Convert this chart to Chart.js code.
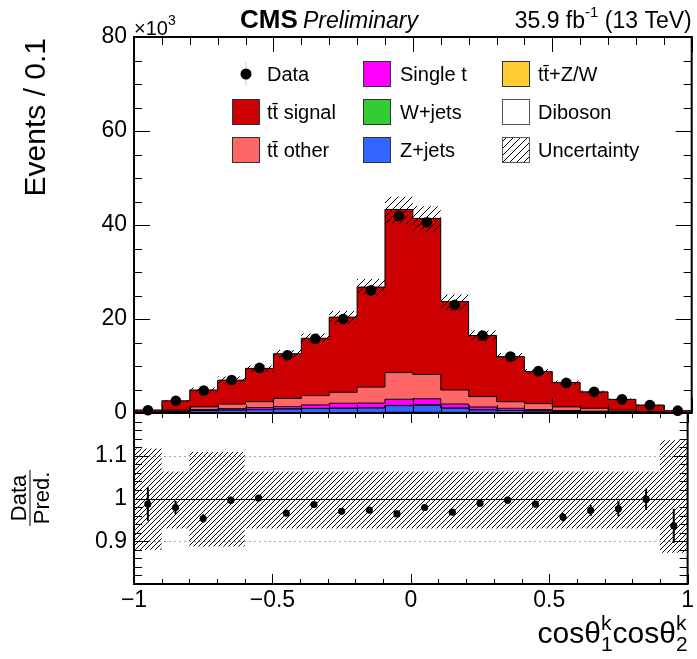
<!DOCTYPE html>
<html>
<head>
<meta charset="utf-8">
<script src="https://cdn.jsdelivr.net/npm/chart.js@4.4.0/dist/chart.umd.min.js"></script>
<style>
  html, body { margin: 0; padding: 0; background: #fff; }
  #wrap { position: relative; width: 697px; height: 659px; }
  canvas { position: absolute; left: 0; top: 0; }
</style>
</head>
<body>
<div id="wrap">
  <canvas id="main" width="697" height="659"></canvas>
  <canvas id="ratio" width="697" height="659"></canvas>
</div>
<script>
// bin edges of cos(theta1k)cos(theta2k), 20 bins of 0.1
const binEdges = [-1.0, -0.9, -0.8, -0.7, -0.6, -0.5, -0.4, -0.3, -0.2, -0.1, 0.0,
                  0.1, 0.2, 0.3, 0.4, 0.5, 0.6, 0.7, 0.8, 0.9, 1.0];

// events per bin, in units of 10^3
const dataCounts = [0.6, 2.6, 4.8, 7.0, 9.6, 12.3, 15.8, 20.0, 26.1, 41.9,
                    40.6, 23.0, 16.5, 12.0, 8.9, 6.4, 4.5, 2.9, 1.7, 0.5];
const ttSignal   = [0.39, 2.0, 3.6, 5.1, 7.1, 9.5, 12.2, 16.0, 21.3, 34.7,
                    33.2, 18.8, 13.0, 9.6, 6.8, 5.2, 3.5, 2.3, 1.4, 0.39];
const ttOther    = [0.10, 0.20, 0.58, 0.97, 1.26, 1.74, 1.98, 2.32, 3.39, 5.68,
                    5.18, 2.99, 2.22, 1.40, 1.28, 0.77, 0.62, 0.34, 0.14, 0.03];
const singleTop  = [0.04, 0.10, 0.20, 0.30, 0.40, 0.50, 0.75, 1.05, 1.00, 1.30,
                    1.30, 0.85, 0.60, 0.45, 0.28, 0.17, 0.12, 0.08, 0.04, 0.02];
const wJets      = [0.01, 0.01, 0.02, 0.02, 0.02, 0.03, 0.03, 0.03, 0.04, 0.06,
                    0.06, 0.04, 0.03, 0.02, 0.02, 0.02, 0.01, 0.01, 0.01, 0.00];
const zJets      = [0.08, 0.25, 0.45, 0.55, 0.65, 0.75, 0.85, 0.90, 0.95, 1.40,
                    1.50, 0.90, 0.55, 0.45, 0.35, 0.28, 0.20, 0.13, 0.08, 0.04];
const ttV        = [0.01, 0.02, 0.02, 0.03, 0.03, 0.04, 0.04, 0.05, 0.06, 0.08,
                    0.08, 0.06, 0.05, 0.04, 0.03, 0.03, 0.02, 0.02, 0.01, 0.01];
const diboson    = [0.01, 0.02, 0.03, 0.03, 0.04, 0.04, 0.05, 0.05, 0.06, 0.08,
                    0.08, 0.06, 0.05, 0.04, 0.04, 0.03, 0.03, 0.02, 0.02, 0.01];

// relative uncertainty of the prediction (up / down)
const uncUp   = [0.117, 0.063, 0.109, 0.109, 0.063, 0.063, 0.063, 0.063, 0.063, 0.063,
                 0.063, 0.063, 0.063, 0.063, 0.063, 0.063, 0.063, 0.063, 0.063, 0.136];
const uncDown = [0.120, 0.070, 0.112, 0.112, 0.070, 0.070, 0.070, 0.070, 0.070, 0.070,
                 0.070, 0.070, 0.070, 0.070, 0.070, 0.070, 0.070, 0.070, 0.070, 0.127];

// data / prediction
const ratioVals = [0.987, 0.979, 0.953, 0.996, 1.001, 0.966, 0.986, 0.970, 0.973, 0.964,
                   0.979, 0.968, 0.989, 0.996, 0.987, 0.956, 0.972, 0.976, 0.998, 0.936];
const ratioErr  = [0.039, 0.016, 0.010, 0.008, 0.007, 0.006, 0.005, 0.005, 0.004, 0.004,
                   0.004, 0.005, 0.005, 0.006, 0.007, 0.010, 0.013, 0.018, 0.025, 0.040];

const yTicksMain = [0, 20, 40, 60, 80];
const yTicksRatio = [0.9, 1, 1.1];
const xTickLabels = [-1, -0.5, 0, 0.5, 1];

const FONT = '"Liberation Sans", Arial, Helvetica, sans-serif';

// stack order bottom -> top
const mcSeries = [
  { label: 'Diboson',      values: diboson,   color: '#ffffff' },
  { label: 't\u0074\u0304+Z/W', values: ttV,  color: '#ffcc33' },
  { label: 'Z+jets',       values: zJets,     color: '#3366ff' },
  { label: 'W+jets',       values: wJets,     color: '#33cc33' },
  { label: 'Single t',     values: singleTop, color: '#ff00ff' },
  { label: 't\u0074\u0304 other',  values: ttOther,  color: '#ff6666' },
  { label: 't\u0074\u0304 signal', values: ttSignal, color: '#cc0000' }
];

const mcTotal = binEdges.slice(1).map((_, i) => mcSeries.reduce((s, m) => s + m.values[i], 0));
const binCenters = binEdges.slice(1).map((e, i) => (e + binEdges[i]) / 2);

function histPoints(values) {
  const pts = values.map((v, i) => ({ x: binEdges[i], y: v }));
  pts.push({ x: binEdges[binEdges.length - 1], y: values[values.length - 1] });
  return pts;
}

// "///" hatch, lines `size` px apart horizontally
function makeHatch(ctx, size, lw) {
  const c = document.createElement('canvas');
  c.width = size; c.height = size;
  const g = c.getContext('2d');
  g.strokeStyle = '#000';
  g.lineWidth = lw;
  g.beginPath();
  g.moveTo(-1, size + 1); g.lineTo(size + 1, -1);
  g.moveTo(-1, 1); g.lineTo(1, -1);
  g.moveTo(size - 1, size + 1); g.lineTo(size + 1, size - 1);
  g.stroke();
  return ctx.createPattern(c, 'repeat');
}

const isMult = (v, step) => Math.abs(v / step - Math.round(v / step)) < 1e-6;

function drawFrame(ctx, a, x, y, o) {
  ctx.save();
  ctx.strokeStyle = '#000';
  ctx.lineWidth = 1;
  ctx.beginPath();
  binEdges.forEach(v => {
    const px = Math.round(x.getPixelForValue(v)) + 0.5;
    const len = isMult(v, 0.5) ? o.xLong : o.xShort;
    ctx.moveTo(px, a.bottom); ctx.lineTo(px, a.bottom - len);
    ctx.moveTo(px, a.top); ctx.lineTo(px, a.top + len);
  });
  y.ticks.forEach(t => {
    const py = Math.round(y.getPixelForValue(t.value)) + 0.5;
    const len = isMult(t.value, o.yMajor) ? o.yLong : o.yShort;
    ctx.moveTo(a.left, py); ctx.lineTo(a.left + len, py);
    ctx.moveTo(a.right, py); ctx.lineTo(a.right - len, py);
  });
  ctx.stroke();
  ctx.lineWidth = 2;
  ctx.strokeRect(a.left, a.top, a.right - a.left, a.bottom - a.top);
  ctx.restore();
}

const ctxMain = document.getElementById('main').getContext('2d');
const ctxRatio = document.getElementById('ratio').getContext('2d');
const hatchMain = makeHatch(ctxMain, 7, 1);
const hatchRatio = makeHatch(ctxRatio, 5, 1);

const decorMain = {
  id: 'decorMain',
  afterDraw(chart) {
    const { ctx, chartArea: a, scales: { x, y } } = chart;
    drawFrame(ctx, a, x, y, { xShort: 8, xLong: 15, yShort: 8, yLong: 16, yMajor: 20 });

    ctx.save();
    ctx.fillStyle = '#000';
    ctx.textAlign = 'left';
    ctx.textBaseline = 'alphabetic';

    // header
    ctx.font = 'bold 26px ' + FONT;
    ctx.fillText('CMS', 240, 28);
    ctx.font = 'italic 23px ' + FONT;
    ctx.fillText('Preliminary', 303, 28);
    ctx.font = '23px ' + FONT;
    const l1 = '35.9 fb', l3 = ' (13 TeV)';
    const w1 = ctx.measureText(l1).width, w3 = ctx.measureText(l3).width;
    ctx.font = '15px ' + FONT;
    const w2 = ctx.measureText('-1').width;
    let lx = a.right - (w1 + w2 + w3);
    ctx.font = '23px ' + FONT;
    ctx.fillText(l1, lx, 28);
    ctx.font = '15px ' + FONT;
    ctx.fillText('-1', lx + w1, 17);
    ctx.font = '23px ' + FONT;
    ctx.fillText(l3, lx + w1 + w2, 28);

    // x10^3
    ctx.font = '20px ' + FONT;
    ctx.fillText('\u00d710', a.left, 35);
    const wx = ctx.measureText('\u00d710').width;
    ctx.font = '14px ' + FONT;
    ctx.fillText('3', a.left + wx, 25);

    // y title
    ctx.save();
    ctx.translate(45, a.top + 1);
    ctx.rotate(-Math.PI / 2);
    ctx.textAlign = 'right';
    ctx.font = '30px ' + FONT;
    ctx.fillText('Events / 0.1', 0, 0);
    ctx.restore();

    // legend
    const rows = [74, 112, 150];
    const cols = [{ box: 232, text: 267 }, { box: 363, text: 400 }, { box: 502, text: 538 }];
    const byLabel = {};
    mcSeries.forEach(m => { byLabel[m.label] = m.color; });
    const entries = [
      [0, 0, 'Data', 'data'], [0, 1, 't\u0074\u0304 signal', byLabel['t\u0074\u0304 signal']],
      [0, 2, 't\u0074\u0304 other', byLabel['t\u0074\u0304 other']],
      [1, 0, 'Single t', byLabel['Single t']], [1, 1, 'W+jets', byLabel['W+jets']],
      [1, 2, 'Z+jets', byLabel['Z+jets']],
      [2, 0, 't\u0074\u0304+Z/W', byLabel['t\u0074\u0304+Z/W']], [2, 1, 'Diboson', byLabel['Diboson']],
      [2, 2, 'Uncertainty', hatchMain]
    ];
    entries.forEach(([c, r, text, fill]) => {
      const cy = rows[r], bx = cols[c].box;
      if (fill === 'data') {
        ctx.beginPath();
        ctx.arc(bx + 14, cy, 5.5, 0, Math.PI * 2);
        ctx.fill();
        ctx.lineWidth = 2;
        ctx.beginPath();
        ctx.moveTo(bx + 14, cy - 12); ctx.lineTo(bx + 14, cy + 12);
        ctx.stroke();
      } else {
        ctx.fillStyle = fill;
        ctx.fillRect(bx, cy - 13, 28, 26);
        ctx.strokeStyle = fill === '#ffffff' || fill === hatchMain ? '#555' : '#333';
        ctx.lineWidth = 1;
        ctx.strokeRect(bx + 0.5, cy - 12.5, 27, 25);
      }
      ctx.fillStyle = '#000';
      ctx.font = '20px ' + FONT;
      ctx.fillText(text, cols[c].text, cy + 7);
    });
    ctx.restore();
  }
};

const mainDatasets = [
  {
    label: 'Data', type: 'line', showLine: false, clip: false, stack: 'data', order: 0,
    data: binCenters.map((c, i) => ({ x: c, y: dataCounts[i] })),
    pointRadius: 5.3, pointBackgroundColor: '#000', pointBorderWidth: 0
  },
  {
    label: 'UncLo', stack: 'uncLo', order: 1, stepped: true, fill: false,
    data: histPoints(mcTotal.map((t, i) => t * (1 - uncDown[i]))),
    borderWidth: 0, pointRadius: 0
  },
  {
    label: 'Uncertainty', stack: 'uncHi', order: 2, stepped: true, fill: '-1',
    data: histPoints(mcTotal.map((t, i) => t * (1 + uncUp[i]))),
    backgroundColor: hatchMain, borderWidth: 0, pointRadius: 0
  }
].concat(mcSeries.map((m, i) => ({
  label: m.label, stack: 'mc', order: 3 + i, stepped: true,
  fill: i === 0 ? 'origin' : '-1',
  data: histPoints(m.values),
  backgroundColor: m.color, borderColor: '#000', borderWidth: 1, pointRadius: 0
})));

new Chart(ctxMain, {
  type: 'line',
  data: { datasets: mainDatasets },
  options: {
    responsive: false, animation: false, events: [],
    layout: { padding: { top: 37, right: 5, bottom: 246, left: 0 } },
    plugins: { legend: { display: false }, tooltip: { enabled: false } },
    scales: {
      x: { type: 'linear', display: false, min: -1, max: 1 },
      y: {
        stacked: true, min: 0, max: 80,
        afterFit: s => { s.width = 134; },
        grid: { display: false, drawTicks: false }, border: { display: false },
        ticks: {
          stepSize: 5, autoSkip: false, padding: 7, color: '#000',
          font: { family: FONT, size: 23 },
          callback: v => yTicksMain.includes(v) ? String(v) : ''
        }
      }
    }
  },
  plugins: [decorMain]
});

const decorRatio = {
  id: 'decorRatio',
  beforeDatasetsDraw(chart) {
    const { ctx, chartArea: a, scales: { y } } = chart;
    ctx.save();
    ctx.strokeStyle = '#aaa';
    ctx.lineWidth = 1;
    ctx.setLineDash([2, 3]);
    [1.1, 0.9].forEach(v => {
      const py = Math.round(y.getPixelForValue(v)) + 0.5;
      ctx.beginPath(); ctx.moveTo(a.left, py); ctx.lineTo(a.right, py); ctx.stroke();
    });
    ctx.restore();
  },
  afterDatasetsDraw(chart) {
    const { ctx, chartArea: a, scales: { x, y } } = chart;
    ctx.save();
    ctx.strokeStyle = '#000';
    ctx.lineWidth = 1;
    const p1 = Math.round(y.getPixelForValue(1)) + 0.5;
    ctx.beginPath(); ctx.moveTo(a.left, p1); ctx.lineTo(a.right, p1); ctx.stroke();
    ctx.lineWidth = 2;
    ctx.beginPath();
    binCenters.forEach((c, i) => {
      const px = x.getPixelForValue(c);
      ctx.moveTo(px, y.getPixelForValue(ratioVals[i] + ratioErr[i]));
      ctx.lineTo(px, y.getPixelForValue(ratioVals[i] - ratioErr[i]));
    });
    ctx.stroke();
    ctx.restore();
  },
  afterDraw(chart) {
    const { ctx, chartArea: a, scales: { x, y } } = chart;
    drawFrame(ctx, a, x, y, { xShort: 5, xLong: 10, yShort: 8, yLong: 15, yMajor: 0.1 });
    ctx.save();
    ctx.fillStyle = '#000';
    ctx.strokeStyle = '#000';

    // Data / Pred. fraction
    ctx.save();
    ctx.translate(30, 498);
    ctx.rotate(-Math.PI / 2);
    ctx.font = '22px ' + FONT;
    ctx.textAlign = 'center';
    ctx.textBaseline = 'alphabetic';
    ctx.fillText('Data', 0, -4);
    ctx.textBaseline = 'top';
    ctx.fillText('Pred.', 0, 2);
    ctx.lineWidth = 1;
    ctx.beginPath(); ctx.moveTo(-28, 0); ctx.lineTo(28, 0); ctx.stroke();
    ctx.restore();

    // x title
    const big = '30px ' + FONT, small = '21px ' + FONT;
    ctx.textBaseline = 'alphabetic';
    ctx.textAlign = 'left';
    ctx.font = big;
    const wc = ctx.measureText('cos\u03b8').width;
    ctx.font = small;
    const ws = Math.max(ctx.measureText('k').width, ctx.measureText('1').width);
    const base = 643;
    let tx = a.right - 2 * (wc + ws);
    ['1', '2'].forEach(sub => {
      ctx.font = big;
      ctx.fillText('cos\u03b8', tx, base);
      ctx.font = small;
      ctx.fillText('k', tx + wc, base - 13);
      ctx.fillText(sub, tx + wc, base + 8);
      tx += wc + ws;
    });
    ctx.restore();
  }
};

new Chart(ctxRatio, {
  type: 'line',
  data: {
    datasets: [
      {
        label: 'Ratio', showLine: false, clip: false, order: 0,
        data: binCenters.map((c, i) => ({ x: c, y: ratioVals[i] })),
        pointRadius: 3.6, pointBackgroundColor: '#000', pointBorderWidth: 0
      },
      {
        label: 'UncLo', order: 1, stepped: true, fill: false,
        data: histPoints(uncDown.map(u => 1 - u)), borderWidth: 0, pointRadius: 0
      },
      {
        label: 'UncHi', order: 2, stepped: true, fill: '-1',
        data: histPoints(uncUp.map(u => 1 + u)),
        backgroundColor: hatchRatio, borderWidth: 0, pointRadius: 0
      }
    ]
  },
  options: {
    responsive: false, animation: false, events: [],
    layout: { padding: { top: 413, right: 5, bottom: 35, left: 0 } },
    plugins: { legend: { display: false }, tooltip: { enabled: false } },
    scales: {
      x: {
        type: 'linear', min: -1, max: 1,
        afterFit: s => { s.height = 40; },
        grid: { display: false, drawTicks: false }, border: { display: false },
        ticks: {
          stepSize: 0.1, autoSkip: false, maxRotation: 0, padding: 3, color: '#000',
          font: { family: FONT, size: 23 },
          callback: v => {
            const hit = xTickLabels.find(t => Math.abs(t - v) < 1e-6);
            return hit === undefined ? '' : String(hit).replace('-', '\u2212');
          }
        }
      },
      y: {
        min: 0.8, max: 1.2,
        afterFit: s => { s.width = 134; },
        grid: { display: false, drawTicks: false }, border: { display: false },
        ticks: {
          stepSize: 0.02, autoSkip: false, padding: 7, color: '#000',
          font: { family: FONT, size: 23 },
          callback: v => {
            const hit = yTicksRatio.find(t => Math.abs(t - v) < 1e-6);
            return hit === undefined ? '' : String(hit);
          }
        }
      }
    }
  },
  plugins: [decorRatio]
});
</script>
</body>
</html>
